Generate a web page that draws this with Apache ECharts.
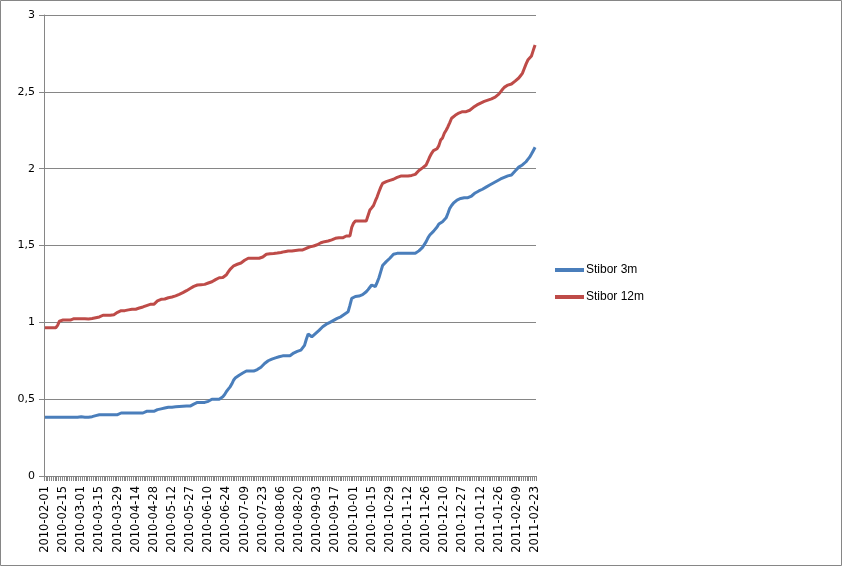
<!DOCTYPE html>
<html><head><meta charset="utf-8">
<script src="https://cdn.jsdelivr.net/npm/echarts@6/dist/echarts.min.js"></script>
<style>html,body{margin:0;padding:0;background:#fff}#c{width:843px;height:567px}</style>
</head><body><div id="c"></div>
<script>
const categories = [
"2010-02-01","2010-02-02","2010-02-03","2010-02-04","2010-02-05","2010-02-08","2010-02-09","2010-02-10","2010-02-11","2010-02-12","2010-02-15","2010-02-16","2010-02-17","2010-02-18","2010-02-19","2010-02-22","2010-02-23","2010-02-24","2010-02-25","2010-02-26",
"2010-03-01","2010-03-02","2010-03-03","2010-03-04","2010-03-05","2010-03-08","2010-03-09","2010-03-10","2010-03-11","2010-03-12","2010-03-15","2010-03-16","2010-03-17","2010-03-18","2010-03-19","2010-03-22","2010-03-23","2010-03-24","2010-03-25","2010-03-26","2010-03-29","2010-03-30","2010-03-31",
"2010-04-01","2010-04-06","2010-04-07","2010-04-08","2010-04-09","2010-04-12","2010-04-13","2010-04-14","2010-04-15","2010-04-16","2010-04-19","2010-04-20","2010-04-21","2010-04-22","2010-04-23","2010-04-26","2010-04-27","2010-04-28","2010-04-29","2010-04-30",
"2010-05-03","2010-05-04","2010-05-05","2010-05-06","2010-05-07","2010-05-10","2010-05-11","2010-05-12","2010-05-14","2010-05-17","2010-05-18","2010-05-19","2010-05-20","2010-05-21","2010-05-24","2010-05-25","2010-05-26","2010-05-27","2010-05-28","2010-05-31",
"2010-06-01","2010-06-02","2010-06-03","2010-06-04","2010-06-07","2010-06-08","2010-06-09","2010-06-10","2010-06-11","2010-06-14","2010-06-15","2010-06-16","2010-06-17","2010-06-18","2010-06-21","2010-06-22","2010-06-23","2010-06-24","2010-06-28","2010-06-29","2010-06-30",
"2010-07-01","2010-07-02","2010-07-05","2010-07-06","2010-07-07","2010-07-08","2010-07-09","2010-07-12","2010-07-13","2010-07-14","2010-07-15","2010-07-16","2010-07-19","2010-07-20","2010-07-21","2010-07-22","2010-07-23","2010-07-26","2010-07-27","2010-07-28","2010-07-29","2010-07-30",
"2010-08-02","2010-08-03","2010-08-04","2010-08-05","2010-08-06","2010-08-09","2010-08-10","2010-08-11","2010-08-12","2010-08-13","2010-08-16","2010-08-17","2010-08-18","2010-08-19","2010-08-20","2010-08-23","2010-08-24","2010-08-25","2010-08-26","2010-08-27","2010-08-30","2010-08-31",
"2010-09-01","2010-09-02","2010-09-03","2010-09-06","2010-09-07","2010-09-08","2010-09-09","2010-09-10","2010-09-13","2010-09-14","2010-09-15","2010-09-16","2010-09-17","2010-09-20","2010-09-21","2010-09-22","2010-09-23","2010-09-24","2010-09-27","2010-09-28","2010-09-29","2010-09-30",
"2010-10-01","2010-10-04","2010-10-05","2010-10-06","2010-10-07","2010-10-08","2010-10-11","2010-10-12","2010-10-13","2010-10-14","2010-10-15","2010-10-18","2010-10-19","2010-10-20","2010-10-21","2010-10-22","2010-10-25","2010-10-26","2010-10-27","2010-10-28","2010-10-29",
"2010-11-01","2010-11-02","2010-11-03","2010-11-04","2010-11-05","2010-11-08","2010-11-09","2010-11-10","2010-11-11","2010-11-12","2010-11-15","2010-11-16","2010-11-17","2010-11-18","2010-11-19","2010-11-22","2010-11-23","2010-11-24","2010-11-25","2010-11-26","2010-11-29","2010-11-30",
"2010-12-01","2010-12-02","2010-12-03","2010-12-06","2010-12-07","2010-12-08","2010-12-09","2010-12-10","2010-12-13","2010-12-14","2010-12-15","2010-12-16","2010-12-17","2010-12-20","2010-12-21","2010-12-22","2010-12-23","2010-12-27","2010-12-28","2010-12-29","2010-12-30",
"2011-01-03","2011-01-04","2011-01-05","2011-01-07","2011-01-10","2011-01-11","2011-01-12","2011-01-13","2011-01-14","2011-01-17","2011-01-18","2011-01-19","2011-01-20","2011-01-21","2011-01-24","2011-01-25","2011-01-26","2011-01-27","2011-01-28","2011-01-31",
"2011-02-01","2011-02-02","2011-02-03","2011-02-04","2011-02-07","2011-02-08","2011-02-09","2011-02-10","2011-02-11","2011-02-14","2011-02-15","2011-02-16","2011-02-17","2011-02-18","2011-02-21","2011-02-22","2011-02-23"
];

const stibor3m = [
.382,.382,.382,.382,.382,.382,.382,.382,.382,.382,
.382,.382,.382,.382,.382,.382,.382,.382,.382,.382,
.385,.382,.382,.382,.382,.382,.386,.39,.393,.396,
.399,.399,.399,.399,.399,.399,.399,.399,.399,.399,
.399,.405,.41,.41,.41,.41,.41,.41,.41,.41,
.41,.41,.41,.41,.41,.415,.421,.421,.421,.421,
.421,.425,.432,.435,.437,.44,.442,.444,.447,.448,
.448,.449,.45,.451,.452,.453,.454,.455,.455,.455,
.455,.46,.468,.476,.479,.479,.479,.479,.479,.479,
.486,.494,.5,.5,.5,.5,.5,.5,.516,.53,
.55,.565,.58,.6,.625,.64,.648,.656,.663,.67,
.677,.683,.683,.683,.683,.683,.686,.693,.7,.708,
.72,.732,.744,.75,.756,.761,.765,.769,.773,.776,
.779,.782,.783,.783,.783,.783,.783,.8,.807,.811,
.815,.819,.83,.85,.89,.924,.915,.906,.915,.927,
.938,.948,.96,.971,.982,.988,.994,1,1.007,1.013,
1.02,1.026,1.031,1.036,1.045,1.053,1.062,1.069,1.11,1.156,
1.162,1.168,1.171,1.171,1.171,1.18,1.19,1.199,1.213,1.228,
1.243,1.237,1.232,1.26,1.29,1.33,1.37,1.383,1.395,1.407,
1.417,1.43,1.443,1.449,1.449,1.449,1.449,1.449,1.449,1.449,
1.449,1.449,1.449,1.449,1.449,1.449,1.465,1.478,1.488,1.5,
1.525,1.55,1.568,1.58,1.592,1.601,1.62,1.64,1.65,1.655,
1.66,1.68,1.71,1.742,1.76,1.775,1.788,1.796,1.801,1.806,
1.811,1.811,1.811,1.811,1.811,1.822,1.832,1.842,1.85,1.855,
1.86,1.866,1.873,1.88,1.887,1.894,1.9,1.907,1.914,1.92,
1.928,1.933,1.938,1.943,1.949,1.953,1.956,1.959,1.97,1.985,
1.998,2.01,2.016,2.024,2.032,2.045,2.06,2.075,2.095,2.117,
2.139
];

const stibor12m = [
.965,.965,.965,.965,.965,.965,.965,.98,1.008,1.01,
1.015,1.015,1.015,1.015,1.015,1.02,1.024,1.024,1.024,1.024,
1.024,1.024,1.024,1.024,1.022,1.02,1.025,1.03,1.03,1.03,
1.035,1.046,1.046,1.046,1.046,1.046,1.046,1.046,1.05,1.059,
1.065,1.07,1.076,1.076,1.076,1.078,1.081,1.085,1.085,1.085,
1.085,1.089,1.093,1.097,1.1,1.104,1.109,1.113,1.117,1.117,
1.117,1.117,1.14,1.15,1.15,1.15,1.152,1.155,1.16,1.162,
1.165,1.168,1.172,1.177,1.182,1.187,1.193,1.2,1.206,1.213,
1.22,1.228,1.234,1.24,1.243,1.244,1.245,1.246,1.247,1.251,
1.256,1.26,1.264,1.27,1.278,1.288,1.29,1.291,1.292,1.293,
1.31,1.328,1.345,1.357,1.368,1.374,1.378,1.382,1.386,1.392,
1.404,1.413,1.417,1.417,1.417,1.417,1.417,1.417,1.417,1.417,
1.425,1.435,1.443,1.445,1.446,1.447,1.448,1.449,1.451,1.453,
1.455,1.457,1.46,1.462,1.464,1.464,1.464,1.464,1.468,1.471,
1.471,1.471,1.471,1.471,1.482,1.488,1.491,1.494,1.497,1.5,
1.505,1.512,1.518,1.523,1.525,1.527,1.529,1.531,1.537,1.543,
1.547,1.549,1.551,1.54,1.55,1.562,1.562,1.562,1.562,1.618,
1.645,1.659,1.659,1.659,1.659,1.659,1.659,1.659,1.659,1.731,
1.745,1.76,1.79,1.817,1.85,1.88,1.904,1.91,1.916,1.92,
1.924,1.928,1.931,1.937,1.943,1.948,1.952,1.952,1.952,1.952,
1.952,1.952,1.956,1.96,1.963,1.975,1.988,1.996,2.005,2.015,
2.024,2.05,2.078,2.1,2.117,2.123,2.13,2.15,2.186,2.2,
2.23,2.25,2.273,2.3,2.328,2.338,2.347,2.356,2.362,2.368,
2.371,2.371,2.371,2.371,2.38,2.39,2.399,2.407,2.415,2.421,
2.427,2.432,2.438,2.442,2.446,2.45,2.454,2.458,2.465,2.473,
2.485,2.5,2.515,2.529,2.537,2.544,2.549,2.551,2.56,2.57,
2.578,2.59,2.605,2.62,2.65,2.68,2.707,2.72,2.733,2.77,
2.805
];

const seriesNames = ["Stibor 3m", "Stibor 12m"];
const yTicks = { min: 0, max: 3, step: 0.5 };

const grey = "#868686";
const chart = echarts.init(document.getElementById("c"), null, { renderer: "canvas" });
chart.setOption({
  animation: false,
  backgroundColor: "#fff",
  graphic: [{
    type: "rect", silent: true,
    shape: { x: 0.5, y: 0.5, width: 841, height: 565 },
    style: { fill: "none", stroke: grey, lineWidth: 1 }
  }],
  grid: { left: 44, right: 307, top: 15, bottom: 91, containLabel: false },
  legend: {
    orient: "vertical", left: 555, top: 263, itemGap: 13, padding: 0,
    itemWidth: 29, itemHeight: 4, icon: "rect",
    textStyle: { fontFamily: "Liberation Sans", fontSize: 12, lineHeight: 14, color: "#000", padding: [0, 0, 0, -3] },
    data: seriesNames
  },
  xAxis: {
    type: "category", data: categories, boundaryGap: true,
    axisLine: { show: true, lineStyle: { color: grey, width: 1 } },
    axisTick: { show: true, interval: 0, length: 5, lineStyle: { color: grey } },
    axisLabel: { interval: 9, rotate: 90, margin: 10, color: "#000", fontFamily: "DejaVu Sans", fontSize: 11.5 },
    splitLine: { show: false }
  },
  yAxis: {
    type: "value", min: yTicks.min, max: yTicks.max, interval: yTicks.step,
    axisLine: { show: true, lineStyle: { color: grey, width: 1 } },
    axisTick: { show: true, length: 5, lineStyle: { color: grey } },
    axisLabel: { margin: 9, color: "#000", fontFamily: "DejaVu Sans", fontSize: 11,
      formatter: v => String(v).replace(".", ",") },
    splitLine: { show: true, lineStyle: { color: grey, width: 1 } }
  },
  series: [
    { name: seriesNames[0], type: "line", data: stibor3m, symbol: "none", smooth: false,
      lineStyle: { color: "#4A7EBB", width: 3 }, itemStyle: { color: "#4A7EBB" } },
    { name: seriesNames[1], type: "line", data: stibor12m, symbol: "none", smooth: false,
      lineStyle: { color: "#BE4B48", width: 3 }, itemStyle: { color: "#BE4B48" } }
  ]
});
</script></body></html>
